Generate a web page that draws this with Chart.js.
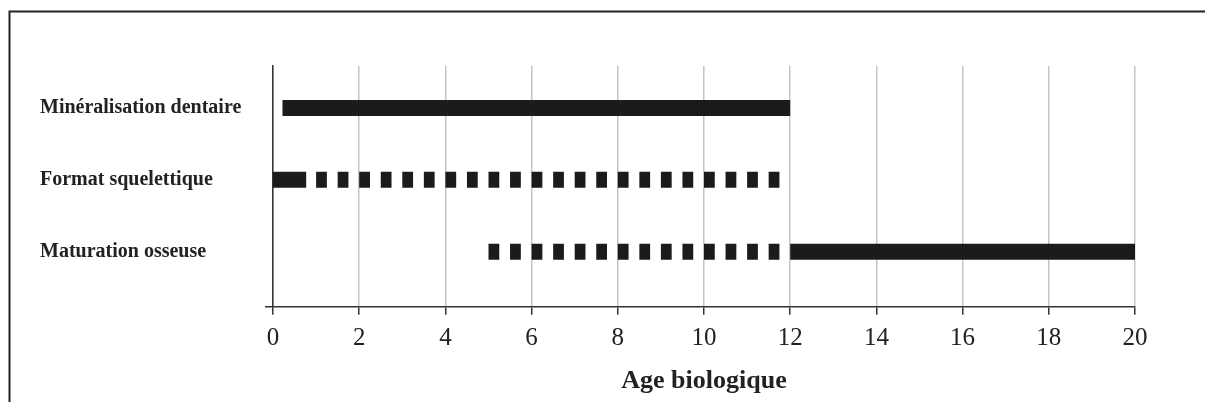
<!DOCTYPE html>
<html>
<head>
<meta charset="utf-8">
<script src="https://cdn.jsdelivr.net/npm/chart.js@4/dist/chart.umd.min.js"></script>
<style>
  html, body { margin: 0; padding: 0; background: #fff; }
  canvas { display: block; }
</style>
</head>
<body>
<canvas id="c" width="1205" height="402"></canvas>
<script>
// ---- data ----
const categories = ['Minéralisation dentaire', 'Format squelettique', 'Maturation osseuse'];
const solidFrom  = [0.22, 0, 12];
const solidTo    = [12, 0.77, 20];
const dashedFrom = [null, 1, 5];
const dashedTo   = [null, 11.75, 11.75];
const xTickValues = [0, 2, 4, 6, 8, 10, 12, 14, 16, 18, 20];
const xTitle = 'Age biologique';

// ---- style constants ----
const INK = '#1b1b1b';
const DASH_UNITS = 0.25;
const Y_MIN = 0.234, Y_MAX = 3.585;
const rowY = i => categories.length - i;

const datasets = [];
categories.forEach((cat, i) => {
  if (solidFrom[i] !== null) {
    datasets.push({
      label: cat + ' (continu)',
      data: [{x: solidFrom[i], y: rowY(i)}, {x: solidTo[i], y: rowY(i)}],
      showLine: true, borderColor: INK, borderWidth: 16, borderCapStyle: 'butt',
      pointRadius: 0, pointHoverRadius: 0
    });
  }
  if (dashedFrom[i] !== null) {
    datasets.push({
      label: cat + ' (pointillé)',
      data: [{x: dashedFrom[i], y: rowY(i)}, {x: dashedTo[i], y: rowY(i)}],
      showLine: true, borderColor: INK, borderWidth: 16, borderCapStyle: 'butt',
      borderDash: (ctx) => {
        const s = ctx.chart.scales && ctx.chart.scales.x;
        if (!s || !s.width) return [10.8, 10.8];
        const w = Math.abs(s.getPixelForValue(DASH_UNITS) - s.getPixelForValue(0));
        return [w, w];
      },
      pointRadius: 0, pointHoverRadius: 0
    });
  }
});

const frame = {
  id: 'frame',
  beforeDraw(chart) {
    const ctx = chart.ctx;
    ctx.save();
    ctx.fillStyle = '#fff';
    ctx.fillRect(0, 0, chart.width, chart.height);
    ctx.strokeStyle = '#222';
    ctx.lineWidth = 2;
    ctx.beginPath();
    ctx.moveTo(9.5, chart.height + 2);
    ctx.lineTo(9.5, 11.5);
    ctx.lineTo(chart.width + 2, 11.5);
    ctx.stroke();
    ctx.restore();
  }
};

new Chart(document.getElementById('c'), {
  type: 'scatter',
  data: { datasets },
  plugins: [frame],
  options: {
    responsive: false,
    animation: false,
    devicePixelRatio: 1,
    layout: { padding: { left: 40, right: 70, top: 66, bottom: 0 } },
    plugins: { legend: { display: false }, tooltip: { enabled: false } },
    scales: {
      x: {
        type: 'linear', min: 0, max: 20,
        afterBuildTicks: (s) => { s.ticks = xTickValues.map(v => ({ value: v })); },
        afterFit: (s) => { s.height = 95.3; },
        grid: { color: '#c4c4c4', lineWidth: 1.5, tickColor: '#333', tickLength: 8 },
        border: { display: true, color: '#333', width: 1.5 },
        ticks: {
          color: '#222', padding: 8.5,
          font: { family: '"Liberation Serif", "Times New Roman", serif', size: 25 }
        },
        title: {
          display: true, text: xTitle, color: '#222',
          padding: { top: 0, bottom: 5 },
          font: { family: '"Liberation Serif", "Times New Roman", serif', size: 26, weight: 'bold' }
        }
      },
      y: {
        type: 'linear', min: Y_MIN, max: Y_MAX,
        afterBuildTicks: (s) => {
          s.ticks = [Y_MIN].concat(categories.map((c, i) => rowY(i))).map(v => ({ value: v }));
        },
        afterFit: (s) => { s.width = 233; },
        grid: {
          drawOnChartArea: false, tickLength: 8, lineWidth: 1.5,
          tickColor: (ctx) => (ctx.tick && ctx.tick.value === Y_MIN) ? '#333' : 'rgba(0,0,0,0)'
        },
        border: { display: true, color: '#333', width: 1.5 },
        ticks: {
          crossAlign: 'far', color: '#222', padding: 10,
          font: { family: '"Liberation Serif", "Times New Roman", serif', size: 20, weight: 'bold' },
          callback: (v) => {
            const i = categories.length - v;
            return Number.isInteger(i) && i >= 0 && i < categories.length ? categories[i] : '';
          }
        }
      }
    }
  }
});
</script>
</body>
</html>
